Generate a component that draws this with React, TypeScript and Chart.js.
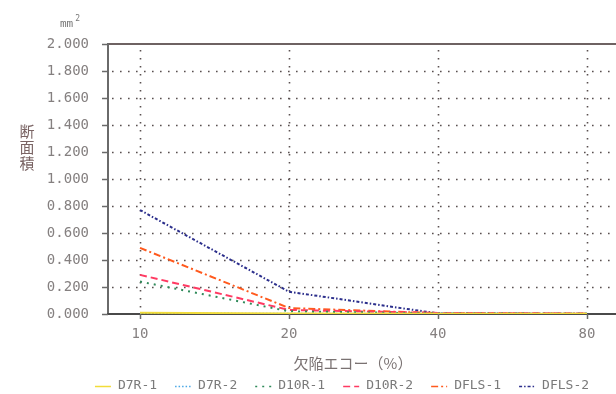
import React, { useEffect, useRef } from "react";
import { Chart, registerables } from "chart.js";

Chart.register(...registerables);

// ---- data ----
const xValues = [10, 20, 40, 80];
const xTickLabels = ["10", "20", "40", "80"];
const yTickValues = [0, 0.2, 0.4, 0.6, 0.8, 1.0, 1.2, 1.4, 1.6, 1.8, 2.0];
const seriesNames = ["D7R-1", "D7R-2", "D10R-1", "D10R-2", "DFLS-1", "DFLS-2"];
const d7r1 = [0.01, 0.004, 0.002, 0.002];
const d7r2 = [0.004, 0.002, 0.001, 0.001];
const d10r1 = [0.24, 0.02, 0.004, 0.002];
const d10r2 = [0.29, 0.03, 0.008, 0.004];
const dfls1 = [0.49, 0.044, 0.006, 0.004];
const dfls2 = [0.77, 0.165, 0.004, 0.002];
const seriesValues = [d7r1, d7r2, d10r1, d10r2, dfls1, dfls2];

const xTitle = "欠陥エコー（%）";
const yTitle = "断面積";
const unitBase = "mm";
const unitSup = "2";

// ---- styles ----
const colors = ["#f2dc3a", "#4aa8e6", "#2f8a5a", "#ff3a62", "#ff5a1e", "#2c2f8c"];
const dashes: number[][] = [[], [1.5, 2], [2, 5], [7, 4], [7, 3, 2, 3], [3, 2, 1.5, 2]];

const monoFont = "'DejaVu Sans Mono', 'Liberation Mono', monospace";
const cjkFont = "'Noto Sans CJK JP', 'Noto Sans', sans-serif";

const decorPlugin = {
  id: "decor",
  beforeDatasetsDraw(chart: any) {
    const { ctx, chartArea, scales } = chart;
    const { left, right, top, bottom } = chartArea;
    const xs = scales.x;
    const ys = scales.y;
    ctx.save();
    // dotted horizontal grid
    ctx.strokeStyle = "#5a5050";
    ctx.lineWidth = 1.6;
    ctx.setLineDash([1.6, 6.4]);
    yTickValues.forEach((v) => {
      if (v <= 0 || v >= 2) return;
      const y = Math.round(ys.getPixelForValue(v)) + 0.5;
      ctx.beginPath();
      ctx.moveTo(left + 4, y);
      ctx.lineTo(right, y);
      ctx.stroke();
    });
    // dotted vertical grid
    xValues.forEach((v) => {
      const x = Math.round(xs.getPixelForValue(v)) + 0.5;
      ctx.beginPath();
      ctx.moveTo(x, top + 6);
      ctx.lineTo(x, bottom);
      ctx.stroke();
    });
    ctx.setLineDash([]);
    // frame
    ctx.strokeStyle = "#6e6262";
    ctx.lineWidth = 2;
    ctx.beginPath();
    ctx.moveTo(left, top);
    ctx.lineTo(right, top);
    ctx.stroke();
    ctx.strokeStyle = "#6a6a6a";
    ctx.beginPath();
    ctx.moveTo(left, top - 1);
    ctx.lineTo(left, bottom + 1);
    ctx.stroke();
    ctx.strokeStyle = "#4a4a4a";
    ctx.beginPath();
    ctx.moveTo(left - 1, bottom);
    ctx.lineTo(right, bottom);
    ctx.stroke();
    // tick marks
    ctx.lineWidth = 1.5;
    ctx.strokeStyle = "#6a6a6a";
    yTickValues.forEach((v) => {
      const y = Math.round(ys.getPixelForValue(v)) + 0.5;
      ctx.beginPath();
      ctx.moveTo(left - 6, y);
      ctx.lineTo(left, y);
      ctx.stroke();
    });
    xValues.forEach((v) => {
      const x = Math.round(xs.getPixelForValue(v)) + 0.5;
      ctx.beginPath();
      ctx.moveTo(x, bottom);
      ctx.lineTo(x, bottom + 5);
      ctx.stroke();
    });
    ctx.restore();
  },
  afterDraw(chart: any) {
    const { ctx } = chart;
    ctx.save();
    // unit label
    ctx.fillStyle = "#777";
    ctx.font = `11px ${monoFont}`;
    ctx.textAlign = "left";
    ctx.textBaseline = "middle";
    ctx.fillText(unitBase, 60, 24);
    const w = ctx.measureText(unitBase).width;
    ctx.font = `8px ${monoFont}`;
    ctx.fillText(unitSup, 60 + w + 2, 19);
    // vertical y title
    ctx.fillStyle = "#7a6464";
    ctx.font = `15px ${cjkFont}`;
    ctx.textAlign = "center";
    Array.from(yTitle).forEach((ch, i) => {
      ctx.fillText(ch, 27, 131 + i * 16);
    });
    // x title
    ctx.fillStyle = "#7a7272";
    ctx.font = `15px ${cjkFont}`;
    ctx.fillText(xTitle, 353, 363);
    // legend
    ctx.font = `13px ${monoFont}`;
    const lineLen = 16;
    const gap = 7;
    const spacing = 18;
    const widths = seriesNames.map((n) => lineLen + gap + ctx.measureText(n).width);
    const total = widths.reduce((a, b) => a + b, 0) + spacing * (seriesNames.length - 1);
    let x = 342 - total / 2;
    const ly = 386;
    seriesNames.forEach((name, i) => {
      ctx.strokeStyle = colors[i];
      ctx.lineWidth = 1.5;
      ctx.setLineDash(dashes[i]);
      ctx.beginPath();
      ctx.moveTo(x, ly + 0.5);
      ctx.lineTo(x + lineLen, ly + 0.5);
      ctx.stroke();
      ctx.setLineDash([]);
      ctx.fillStyle = "#7a7a7a";
      ctx.textAlign = "left";
      ctx.fillText(name, x + lineLen + gap, ly);
      x += widths[i] + spacing;
    });
    ctx.restore();
  },
};

export default function App() {
  const ref = useRef<HTMLCanvasElement | null>(null);
  useEffect(() => {
    if (!ref.current) return;
    const datasets = seriesNames.map((name, i) => ({
      label: name,
      data: xValues.map((x, j) => ({ x, y: seriesValues[i][j] })),
      borderColor: colors[i],
      backgroundColor: colors[i],
      borderDash: dashes[i],
      borderWidth: 2,
      pointRadius: 0,
      fill: false,
      tension: 0,
    }));
    const xMin = 10 * Math.pow(2, -32 / 149);
    const xMax = 10 * Math.pow(2, (616 - 140) / 149);
    const chart = new Chart(ref.current, {
      type: "line",
      data: { datasets },
      options: {
        animation: false,
        responsive: false,
        maintainAspectRatio: false,
        layout: { padding: { left: 0, right: 0, top: 44, bottom: 40 } },
        plugins: { legend: { display: false }, tooltip: { enabled: false } },
        scales: {
          x: {
            type: "logarithmic",
            min: xMin,
            max: xMax,
            grid: { display: false },
            border: { display: false },
            afterBuildTicks: (scale: any) => {
              scale.ticks = xValues.map((v) => ({ value: v }));
            },
            afterFit: (scale: any) => {
              scale.height = 40;
            },
            ticks: {
              autoSkip: false,
              maxRotation: 0,
              padding: 4,
              color: "#858080",
              font: { family: monoFont, size: 14 },
              callback: (v: any) => {
                const idx = xValues.indexOf(Number(v));
                return idx >= 0 ? xTickLabels[idx] : "";
              },
            },
          },
          y: {
            type: "linear",
            min: 0,
            max: 2,
            grid: { display: false },
            border: { display: false },
            afterBuildTicks: (scale: any) => {
              scale.ticks = yTickValues.map((v) => ({ value: v }));
            },
            afterFit: (scale: any) => {
              scale.width = 108;
            },
            ticks: {
              padding: 11,
              color: "#858080",
              font: { family: monoFont, size: 14 },
              callback: (v: any) => Number(v).toFixed(3),
            },
          },
        },
      },
      plugins: [decorPlugin],
    });
    return () => chart.destroy();
  }, []);
  return (
    <div style={{ position: "absolute", left: 0, top: 0, width: 616, height: 394, overflow: "hidden", background: "#fff" }}>
      <canvas ref={ref} width={616} height={394} style={{ width: 616, height: 394, display: "block" }} />
    </div>
  );
}
